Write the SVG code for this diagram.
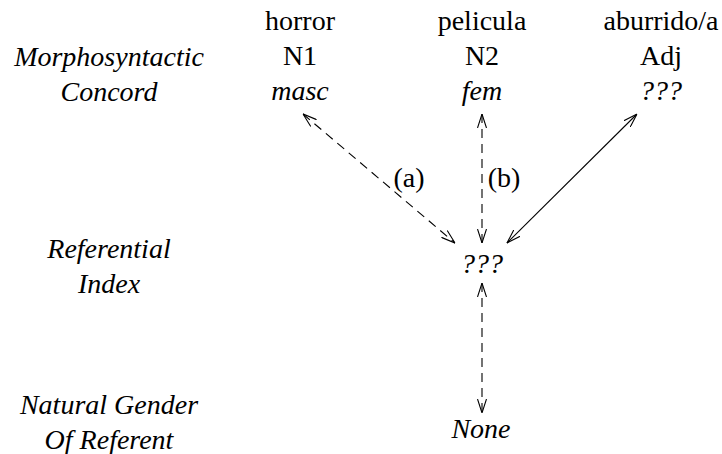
<svg xmlns="http://www.w3.org/2000/svg" width="722" height="454" viewBox="0 0 722 454">
<style>
text{font-family:'Liberation Serif','Times New Roman',Times,serif;font-size:28px;fill:#000;text-anchor:middle}
.i{font-style:italic}
.c{fill:none;stroke:#000;stroke-width:1.1}
.d{stroke-dasharray:9 6}
</style>
<defs>
<marker id="ah" viewBox="0 0 14 10" refX="14" refY="5" markerWidth="14" markerHeight="10" markerUnits="userSpaceOnUse" orient="auto-start-reverse">
<path d="M0,0.5 L14,5 L0,9.5" fill="none" stroke="#000" stroke-width="1.1"/>
</marker>
</defs>
<g id="labels">
<g id="row-morpho"><text class="i" x="109" y="66">Morphosyntactic</text><text class="i" x="109" y="101">Concord</text></g>
<g id="row-ref"><text class="i" x="109" y="258">Referential</text><text class="i" x="109" y="293">Index</text></g>
<g id="row-natural"><text class="i" x="109" y="414">Natural Gender</text><text class="i" x="109" y="449">Of Referent</text></g>
</g>
<g id="n1"><text x="300" y="30">horror</text><text x="300" y="65">N1</text><text class="i" x="300" y="100">masc</text></g>
<g id="n2"><text x="482" y="30">pelicula</text><text x="482" y="65">N2</text><text class="i" x="482" y="100">fem</text></g>
<g id="adj"><text x="661" y="30">aburrido/a</text><text x="661" y="65">Adj</text><text class="i" x="661" y="100">???</text></g>
<g id="index"><text class="i" x="482" y="273">???</text></g>
<g id="none"><text class="i" x="481" y="438">None</text></g>
<g id="connectors">
<line class="c d" x1="303" y1="114" x2="455" y2="243" marker-start="url(#ah)" marker-end="url(#ah)"/>
<line class="c d" x1="482" y1="114" x2="482" y2="243" marker-start="url(#ah)" marker-end="url(#ah)"/>
<line class="c" x1="637" y1="114" x2="507" y2="243" marker-start="url(#ah)" marker-end="url(#ah)"/>
<line class="c d" x1="482" y1="283" x2="482" y2="413" marker-start="url(#ah)" marker-end="url(#ah)"/>
<text x="409" y="187">(a)</text>
<text x="504" y="187">(b)</text>
</g>
</svg>
